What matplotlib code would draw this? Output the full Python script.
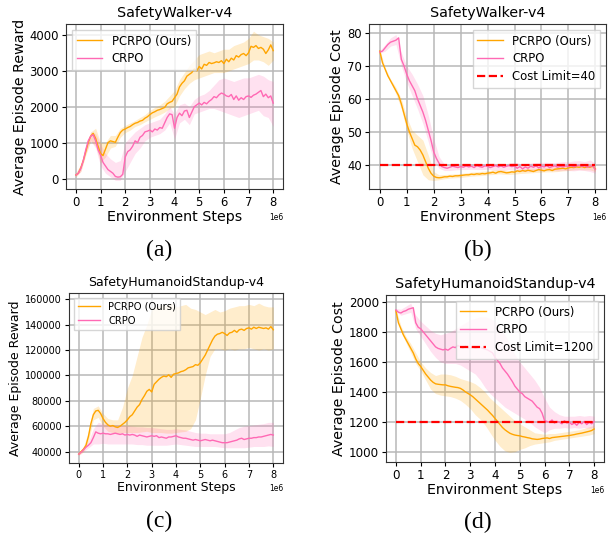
import numpy as np
import matplotlib
matplotlib.use("Agg")
import matplotlib.pyplot as plt

# x grids (env steps) : means every 0.1e6, bands every 0.2e6
steps = np.arange(81) * 0.1e6
steps_band = np.arange(41) * 0.2e6

# ---------------- (a) SafetyWalker-v4 reward ----------------
pcrpo_rew_walker = [100, 150, 300, 500, 750, 1000, 1180, 1260, 1120, 900, 700, 640, 820, 1000, 1050, 1030,
                    1010, 1150, 1280, 1350, 1380, 1420, 1450, 1500, 1540, 1560, 1600, 1620, 1680, 1720, 1780,
                    1830, 1860, 1900, 1920, 1950, 1980, 2080, 2120, 2150, 2250, 2350, 2550, 2650, 2720, 2850,
                    2900, 2950, 3050, 3000, 3120, 3050, 3180, 3150, 3230, 3200, 3220, 3250, 3230, 3280, 3200,
                    3320, 3250, 3350, 3300, 3420, 3380, 3450, 3480, 3420, 3500, 3680, 3650, 3700, 3620, 3650,
                    3600, 3480, 3580, 3720, 3560]
crpo_rew_walker = [100, 150, 280, 500, 800, 1050, 1180, 1220, 1050, 800, 650, 450, 350, 250, 200, 150, 60, 40,
                   50, 120, 600, 750, 800, 900, 1050, 1000, 1150, 1200, 1300, 1320, 1350, 1300, 1380, 1350, 1420,
                   1400, 1550, 1700, 1800, 1780, 1400, 1700, 1820, 1750, 1880, 1900, 1700, 1850, 2000, 2050, 2100,
                   2050, 2120, 2080, 2150, 2200, 2280, 2250, 2330, 2380, 2350, 2300, 2280, 2340, 2200, 2300, 2180,
                   2250, 2200, 2280, 2300, 2260, 2320, 2350, 2400, 2450, 2280, 2350, 2250, 2300, 2100]
pcrpo_rew_walker_lo = [50, 200, 650, 1050, 900, 450, 600, 850, 900, 1150, 1280, 1350, 1450, 1500, 1580, 1650,
                       1720, 1780, 1850, 1950, 2000, 2300, 2500, 2650, 2750, 2800, 2850, 2900, 2950, 2950, 2950,
                       3000, 3050, 3100, 3150, 3200, 3300, 3300, 3250, 3150, 3300]
pcrpo_rew_walker_hi = [150, 400, 850, 1300, 1400, 1000, 1000, 1200, 1200, 1400, 1480, 1550, 1620, 1700, 1780,
                       1900, 1980, 2050, 2150, 2300, 2450, 2750, 2950, 3150, 3300, 3450, 3500, 3550, 3500, 3550,
                       3600, 3600, 3700, 3750, 3800, 3900, 4100, 4000, 3950, 3900, 3800]
crpo_rew_walker_lo = [50, 200, 700, 1050, 850, 350, 150, 50, -50, -50, 200, 450, 700, 850, 1050, 1150, 1200,
                      1250, 1350, 1550, 1100, 1550, 1650, 1500, 1800, 1850, 1900, 1950, 1950, 1900, 1850, 1800,
                      1750, 1700, 1750, 1800, 1850, 1900, 1750, 1700, 1450]
crpo_rew_walker_hi = [150, 400, 900, 1300, 1250, 950, 700, 550, 450, 500, 1000, 1150, 1300, 1400, 1500, 1550,
                      1600, 1650, 1800, 2000, 1800, 2050, 2100, 2000, 2200, 2300, 2350, 2450, 2600, 2750, 2800,
                      2750, 2700, 2750, 2800, 2800, 2850, 2900, 2850, 2750, 2700]

# ---------------- (b) SafetyWalker-v4 cost ----------------
pcrpo_cost_walker = [74.5, 71, 69, 67, 65.5, 64, 62.5, 61, 58.5, 55.5, 52.5, 50, 48, 46, 45.5, 44.5, 43, 41, 39,
                     37.5, 36.6, 36.2, 36.1, 36.2, 36.4, 36.4, 36.6, 36.5, 36.7, 36.7, 36.8, 36.9, 37.0, 37.0,
                     37.2, 37.1, 37.3, 37.2, 37.4, 37.3, 37.5, 37.6, 37.8, 37.5, 37.9, 38.0, 37.8, 37.6, 37.7,
                     37.9, 37.8, 38.2, 38.0, 38.3, 38.1, 38.4, 38.2, 38.0, 38.3, 38.6, 38.4, 38.2, 38.5, 38.6,
                     38.3, 38.7, 38.8, 38.9, 39.0, 38.8, 39.1, 39.3, 39.2, 39.4, 39.3, 39.5, 39.2, 39.4, 39.3,
                     39.6, 38.8]
crpo_cost_walker = [74.2, 74.5, 75.5, 76.5, 77.2, 77.5, 77.8, 78.5, 72, 70, 67.5, 65.5, 64, 62.5, 60, 58, 56,
                    53.5, 50.5, 47.5, 44, 42, 40.5, 39.5, 39.2, 39.0, 39.3, 39.6, 39.4, 39.2, 39.5, 39.3, 39.7,
                    39.4, 39.6, 39.2, 39.8, 39.5, 39.3, 39.7, 39.6, 39.2, 39.5, 39.8, 39.4, 39.7, 39.3, 39.6,
                    39.8, 39.5, 39.7, 39.0, 39.5, 38.8, 39.4, 39.0, 39.6, 39.3, 39.7, 39.1, 39.6, 39.4, 39.8,
                    39.2, 39.5, 39.7, 39.3, 39.6, 39.4, 39.7, 39.5, 39.8, 39.4, 39.7, 39.9, 39.5, 39.8, 39.3,
                    39.6, 39.7, 38.6]
pcrpo_cost_walker_lo = [74, 68.5, 65, 61.5, 57, 50.5, 45, 41, 37, 35.5, 35.3, 35.5, 35.8, 36.0, 36.1, 36.2,
                        36.4, 36.6, 36.7, 36.8, 37.0, 37.1, 37.3, 37.2, 37.1, 37.2, 37.4, 37.5, 37.6, 37.7,
                        37.8, 37.9, 37.9, 38.0, 38.2, 38.3, 38.5, 38.6, 38.5, 38.5, 38.0]
pcrpo_cost_walker_hi = [75, 69.5, 66, 63.5, 60, 54.5, 50.5, 49, 47.5, 43, 38, 37, 37.1, 37.2, 37.3, 37.4, 37.6,
                        37.8, 37.9, 38.1, 38.2, 38.5, 38.6, 38.5, 38.3, 38.5, 38.8, 38.9, 39.0, 39.0, 39.2,
                        39.3, 39.4, 39.5, 39.7, 39.8, 40.0, 40.1, 40.2, 40.4, 40.0]
crpo_cost_walker_lo = [73.8, 74.5, 76, 76.5, 70, 65, 61, 57, 52.5, 47, 41, 39, 38.3, 38.3, 38.5, 38.6, 38.6,
                       38.7, 38.6, 38.6, 38.7, 38.5, 38.5, 38.4, 38.6, 38.5, 38.2, 38.0, 38.2, 38.3, 38.2, 38.4,
                       38.3, 38.2, 38.3, 38.3, 38.2, 38.4, 38.3, 38.0, 37.5]
crpo_cost_walker_hi = [74.6, 76.5, 78.5, 79.5, 74, 70, 67.5, 64.5, 61, 55, 48, 42.5, 40.2, 40.0, 40.2, 40.3,
                       40.4, 40.4, 40.5, 40.3, 40.4, 40.5, 40.4, 40.3, 40.6, 40.8, 40.5, 40.3, 40.6, 40.7, 40.8,
                       40.8, 40.7, 40.8, 41.0, 40.9, 41.2, 41.3, 41.0, 41.5, 40.5]

# ---------------- (c) SafetyHumanoidStandup-v4 reward (x1000) ----------------
pcrpo_rew_hum = [38, 40, 42, 45, 52, 62, 69, 72, 72.5, 70, 66, 63, 61, 60, 60.5, 59.5, 59, 60, 61.5, 63, 65,
                 67.5, 69, 72, 75, 77, 81, 84, 87.5, 89, 87, 93, 95, 97, 98.5, 99.5, 99, 100.5, 98.5, 101, 101.5,
                 102, 103, 103.5, 104.5, 106, 106.5, 107, 108.5, 108, 110, 113, 116, 120, 124, 128, 131, 132.5,
                 133, 134, 133, 131.5, 133.5, 134, 135.5, 134, 136, 136.5, 135.5, 137, 137.5, 136.5, 138, 137,
                 138, 137.5, 137, 137.5, 136.5, 138.5, 136]
crpo_rew_hum = [38, 39.5, 41.5, 43.5, 45, 47, 51, 55.5, 54.5, 54, 54.5, 54, 54, 53.5, 54, 54.5, 54, 53.5, 54,
                53, 53.5, 53, 53.5, 53, 52, 53, 52.5, 52, 51.5, 52, 52.5, 52, 52.5, 51, 51.5, 51, 50.5, 51.5,
                51.5, 52, 52.5, 51.5, 51, 50.5, 50.5, 50, 49.5, 49, 49.5, 49, 48.5, 49, 49.5, 49, 48.5, 49, 48.5,
                48, 47.5, 47, 47, 47, 47.5, 48, 48.5, 49, 50, 50.5, 49.5, 50, 50.5, 50.5, 51, 51, 51.5, 51.5, 52,
                52.5, 53, 53.5, 53]
pcrpo_rew_hum_lo = [37, 40, 48, 65, 67, 60, 56, 55, 54.5, 55, 55, 55, 55, 55.5, 56, 55, 55, 55, 54.5, 54.5, 55,
                    55.5, 56, 58, 65, 82, 100, 115, 121, 121, 120, 121, 120, 121, 121, 122, 121, 120, 121, 120, 121]
pcrpo_rew_hum_hi = [39, 44, 56, 74, 76, 70, 66, 65, 65, 75, 90, 100, 115, 130, 140, 152, 154, 156, 155, 157,
                    154, 155, 156, 153, 152, 150, 148, 150, 152, 150, 151, 153, 154, 155, 155, 156, 155, 157,
                    155, 154, 154]
crpo_rew_hum_lo = [37, 40, 43, 46, 46, 46.5, 46, 46, 46, 46, 46, 46, 45.5, 45.5, 45, 45, 45, 45, 45, 45.5, 46,
                   45.5, 45, 44.5, 44, 44, 44, 44, 44, 43.5, 43, 43, 43, 43, 43, 43.5, 44, 44, 44, 44.5, 44]
crpo_rew_hum_hi = [39, 43, 48, 58, 63, 62, 61.5, 61, 61, 60.5, 60.5, 60, 59.5, 59.5, 59, 59, 58.5, 58, 57.5,
                   57.5, 58, 57.5, 57, 56, 55, 54.5, 54.5, 54, 54, 54, 54, 55, 57, 59, 60, 60.5, 61, 61.5, 62,
                   63, 63]

# ---------------- (d) SafetyHumanoidStandup-v4 cost ----------------
pcrpo_cost_hum = [1940, 1860, 1820, 1780, 1750, 1720, 1690, 1660, 1620, 1590, 1570, 1545, 1520, 1500, 1480,
                  1465, 1455, 1452, 1450, 1448, 1448, 1442, 1438, 1435, 1432, 1430, 1425, 1415, 1402, 1392,
                  1382, 1370, 1355, 1340, 1325, 1310, 1295, 1280, 1262, 1245, 1225, 1205, 1185, 1165, 1150,
                  1138, 1127, 1120, 1115, 1112, 1110, 1105, 1102, 1098, 1095, 1090, 1088, 1086, 1088, 1092,
                  1094, 1096, 1092, 1098, 1100, 1102, 1104, 1106, 1108, 1110, 1112, 1115, 1118, 1122, 1125,
                  1128, 1132, 1136, 1140, 1145, 1155]
crpo_cost_hum = [1945, 1930, 1925, 1935, 1940, 1950, 1955, 1960, 1860, 1830, 1820, 1800, 1780, 1760, 1740,
                 1720, 1700, 1690, 1685, 1680, 1685, 1678, 1690, 1700, 1695, 1710, 1700, 1690, 1705, 1695, 1690,
                 1700, 1690, 1695, 1700, 1690, 1685, 1680, 1670, 1660, 1630, 1610, 1590, 1560, 1540, 1520, 1495,
                 1470, 1440, 1420, 1400, 1390, 1370, 1360, 1350, 1340, 1320, 1300, 1290, 1260, 1210, 1205, 1200,
                 1215, 1195, 1205, 1200, 1190, 1210, 1195, 1200, 1185, 1195, 1180, 1200, 1190, 1205, 1185, 1200,
                 1190, 1205]
pcrpo_cost_hum_lo = [1930, 1800, 1730, 1660, 1590, 1540, 1480, 1420, 1390, 1380, 1375, 1370, 1360, 1345, 1320,
                     1290, 1250, 1220, 1180, 1130, 1080, 1040, 1010, 1000, 1005, 1020, 1030, 1045, 1055, 1060,
                     1065, 1070, 1080, 1085, 1090, 1095, 1100, 1105, 1110, 1115, 1125]
pcrpo_cost_hum_hi = [1950, 1840, 1770, 1720, 1660, 1600, 1560, 1530, 1510, 1520, 1520, 1515, 1505, 1490, 1480,
                     1470, 1455, 1430, 1400, 1360, 1330, 1300, 1270, 1240, 1210, 1190, 1170, 1150, 1130, 1125,
                     1120, 1125, 1125, 1130, 1135, 1140, 1145, 1150, 1160, 1170, 1180]
crpo_cost_hum_lo = [1935, 1910, 1920, 1930, 1820, 1770, 1720, 1670, 1630, 1600, 1590, 1590, 1590, 1580, 1560,
                    1540, 1520, 1480, 1430, 1390, 1360, 1330, 1300, 1280, 1260, 1240, 1220, 1200, 1170, 1150,
                    1130, 1150, 1160, 1160, 1165, 1160, 1165, 1160, 1165, 1160, 1165]
crpo_cost_hum_hi = [1955, 1950, 1970, 1990, 1910, 1870, 1840, 1810, 1790, 1780, 1790, 1800, 1820, 1840, 1860,
                    1880, 1890, 1900, 1900, 1890, 1870, 1830, 1780, 1720, 1650, 1600, 1560, 1520, 1480, 1430,
                    1360, 1300, 1270, 1250, 1240, 1240, 1240, 1245, 1240, 1245, 1240]

ORANGE = '#ffa500'
PINK = '#ff69b4'

fig = plt.figure(figsize=(6.08, 5.35), dpi=100)


def panel(rect, title, ylabel, p_mean, p_lo, p_hi, c_mean, c_lo, c_hi, ylim, limit=None,
          loc='upper left', fs_lab=10.3, fs_tick=8.4, fs_leg=8.4, scale=1.0):
    ax = fig.add_axes(rect)
    ax.fill_between(steps_band, np.array(p_lo) * scale, np.array(p_hi) * scale, color=ORANGE, alpha=0.2, lw=0)
    ax.fill_between(steps_band, np.array(c_lo) * scale, np.array(c_hi) * scale, color=PINK, alpha=0.2, lw=0)
    ax.plot(steps, np.array(p_mean) * scale, color=ORANGE, lw=1, label='PCRPO (Ours)')
    ax.plot(steps, np.array(c_mean) * scale, color=PINK, lw=1, label='CRPO')
    if limit is not None:
        ax.plot([0, 8e6], [limit, limit], color='red', ls='--', lw=1.6, label='Cost Limit=%d' % limit)
    ax.set_xlim(-0.4e6, 8.4e6)
    ax.set_ylim(*ylim)
    ax.set_xticks(np.arange(9) * 1e6)
    ax.grid(True, color='#b8b8b8', lw=1.1)
    ax.set_axisbelow(True)
    ax.set_title(title, fontsize=fs_lab, pad=5)
    ax.set_xlabel('Environment Steps', fontsize=fs_lab, labelpad=1)
    ax.set_ylabel(ylabel, fontsize=fs_lab, labelpad=2)
    ax.tick_params(labelsize=fs_tick, length=3, pad=2)
    ax.xaxis.get_offset_text().set_fontsize(5.5)
    for s in ax.spines.values():
        s.set_color('#333333')
        s.set_linewidth(0.8)
    ax.legend(loc=loc, fontsize=fs_leg, framealpha=0.8, edgecolor='#cccccc', fancybox=False,
              handlelength=2.2, borderpad=0.4, labelspacing=0.4)
    return ax


panel([0.1086, 0.6467, 0.357, 0.3084], 'SafetyWalker-v4', 'Average Episode Reward',
      pcrpo_rew_walker, pcrpo_rew_walker_lo, pcrpo_rew_walker_hi,
      crpo_rew_walker, crpo_rew_walker_lo, crpo_rew_walker_hi, (-290, 4300))
panel([0.6069, 0.6467, 0.39, 0.3084], 'SafetyWalker-v4', 'Average Episode Cost',
      pcrpo_cost_walker, pcrpo_cost_walker_lo, pcrpo_cost_walker_hi,
      crpo_cost_walker, crpo_cost_walker_lo, crpo_cost_walker_hi, (32.7, 82.7), limit=40, loc='upper right')
panel([0.1135, 0.1346, 0.352, 0.3178], 'SafetyHumanoidStandup-v4', 'Average Episode Reward',
      pcrpo_rew_hum, pcrpo_rew_hum_lo, pcrpo_rew_hum_hi,
      crpo_rew_hum, crpo_rew_hum_lo, crpo_rew_hum_hi, (31000, 165000),
      fs_lab=9.0, fs_tick=7.0, fs_leg=7.2, scale=1000.0)
panel([0.6349, 0.1364, 0.3586, 0.3121], 'SafetyHumanoidStandup-v4', 'Average Episode Cost',
      pcrpo_cost_hum, pcrpo_cost_hum_lo, pcrpo_cost_hum_hi,
      crpo_cost_hum, crpo_cost_hum_lo, crpo_cost_hum_hi, (936, 2044), limit=1200, loc='upper right',
      fs_tick=8.6)

# sub-figure captions
for x, y, s in [(159, 250, '(a)'), (478, 250, '(b)'), (159, 521, '(c)'), (478, 522, '(d)')]:
    fig.text(x / 608, 1 - y / 535, s, family='Liberation Serif', fontsize=17, ha='center', va='center')

fig.savefig('out.png', dpi=100)
